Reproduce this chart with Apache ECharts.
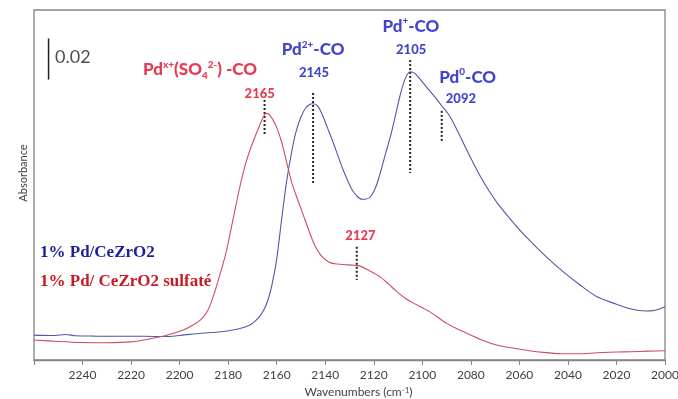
<!DOCTYPE html>
<html>
<head>
<meta charset="utf-8">
<script src="https://cdn.jsdelivr.net/npm/echarts@6/dist/echarts.min.js"></script>
<style>
  html, body { margin: 0; padding: 0; background: #fff; }
  #chart { width: 678px; height: 399px; }
</style>
</head>
<body>
<div id="chart"></div>
<script>
// IR spectra of CO adsorbed on Pd catalysts: [wavenumber (cm-1), absorbance]
const pdCeZr = [
  [2260,0.0121],[2252,0.0119],[2247,0.0124],[2243,0.0118],[2235,0.0116],[2225,0.0115],
  [2215,0.0115],[2205,0.0114],[2198,0.0122],[2191,0.0130],[2184,0.0136],[2178,0.0146],
  [2174,0.0157],[2171,0.0170],[2169,0.0188],[2167,0.0212],[2165,0.0250],[2163.5,0.0295],
  [2162,0.0362],[2160,0.0490],[2158,0.0680],[2156,0.0860],[2154,0.1000],[2152,0.1110],
  [2150,0.1180],[2148,0.1225],[2146,0.1243],[2145,0.1245],[2143,0.1232],[2141,0.1185],
  [2139,0.1125],[2137,0.1065],[2135,0.1000],[2133,0.0935],[2131,0.0878],[2129,0.0828],
  [2127,0.0797],[2125,0.0781],[2123,0.0782],[2121,0.0798],[2119,0.0845],[2117,0.0922],
  [2115,0.1008],[2113,0.1092],[2111,0.1192],[2109,0.1292],[2107,0.1368],[2105,0.1400],
  [2103,0.1392],[2101,0.1365],[2098,0.1322],[2095,0.1280],[2092,0.1235],[2089,0.1190],
  [2086,0.1125],[2083,0.1052],[2080,0.0980],[2076,0.0890],[2072,0.0812],[2069,0.0761],
  [2062,0.0660],[2056,0.0583],[2049,0.0502],[2042,0.0429],[2035,0.0364],[2028,0.0307],
  [2021,0.0275],[2014,0.0248],[2008,0.0238],[2004,0.0242],[2000,0.0259]
];
const pdCeZrSulf = [
  [2260,0.0097],[2250,0.0090],[2240,0.0085],[2230,0.0084],[2220,0.0088],[2212,0.0103],
  [2205,0.0121],[2198.5,0.0146],[2195,0.0166],[2191.5,0.0194],[2189,0.0228],[2187,0.0280],
  [2185,0.0350],[2183,0.0430],[2181,0.0515],[2179,0.0625],[2177,0.0740],[2175,0.0850],
  [2173,0.0945],[2171,0.1020],[2169,0.1082],[2167,0.1140],[2165.5,0.1180],[2164.5,0.1198],
  [2163,0.1192],[2161.5,0.1165],[2160,0.1130],[2158,0.1060],[2156,0.0965],[2154,0.0870],
  [2152,0.0800],[2150,0.0735],[2148,0.0670],[2146,0.0605],[2144,0.0550],[2142,0.0512],
  [2140,0.0488],[2138,0.0473],[2135,0.0466],[2132,0.0463],[2128,0.0460],[2125.5,0.0456],
  [2122,0.0435],[2117.5,0.0405],[2114,0.0370],[2110.5,0.0332],[2107,0.0300],[2103.5,0.0275],
  [2097,0.0235],[2090,0.0178],[2083,0.0137],[2076,0.0100],[2069,0.0072],[2062,0.0057],
  [2056,0.0045],[2049,0.0036],[2042,0.0030],[2036,0.0030],[2028,0.0035],[2020,0.0039],
  [2014,0.0040],[2007,0.0043],[2000,0.0045]
];

const seriesNames = ['1% Pd/CeZrO2', '1% Pd/ CeZrO2 sulfaté'];

// Band positions marked with dotted guides: [wavenumber, upper abs, lower abs]
const bandGuides = [
  [2165, 0.1263, 0.1093],
  [2145, 0.1297, 0.0860],
  [2105, 0.1457, 0.0908],
  [2092, 0.1210, 0.1055],
  [2127, 0.0550, 0.0389]
];

// Absorbance scale bar: [wavenumber, bottom abs, top abs]
const scaleBar = [[2254, 0.1362, 0.1562]];

// Band assignment labels
const bandLabelText = [
  'Pd{sup|x+}(SO{sub|4}{sup|2-}) -CO', '2165',
  'Pd{sup|2+}-CO', '2145',
  'Pd{sup|+}-CO', '2105',
  'Pd{sup|0}-CO', '2092',
  '2127', '0.02'
];
const bandLabelWn  = [2191.6, 2167, 2145, 2144.6, 2104.7, 2104.6, 2081.3, 2084.1, 2125.5, 2251.3];
const bandLabelAbs = [0.1409, 0.1295, 0.1506, 0.1394, 0.1619, 0.1509, 0.1373, 0.1271, 0.0602, 0.1472];
const bandLabelKind = ['nameR','numR','nameB','numB','nameB','numB','nameB','numB','numR','scale'];

const RED = '#e00a24';
const BLUE = '#1414c0';
const FONT = 'Lato';

function labelStyle(kind) {
  const color = kind === 'scale' ? '#222' : (kind.endsWith('R') ? RED : BLUE);
  const isName = kind.startsWith('name');
  const size = kind === 'scale' ? 18 : (isName ? 17 : 13);
  const weight = kind === 'scale' ? 'normal' : 900;
  const small = { fontSize: 10, fontWeight: weight, fontFamily: FONT, color: color, lineHeight: 10 };
  return {
    show: true,
    position: 'inside',
    align: kind === 'scale' ? 'left' : 'center',
    verticalAlign: 'middle',
    color: color,
    fontSize: size,
    fontWeight: weight,
    fontFamily: FONT,
    lineHeight: size + 4,
    rich: {
      sup: Object.assign({ verticalAlign: 'top' }, small),
      sub: Object.assign({ verticalAlign: 'bottom' }, small)
    }
  };
}

const labelData = bandLabelText.map((t, i) => {
  const lab = labelStyle(bandLabelKind[i]);
  lab.formatter = t;
  return { value: [bandLabelWn[i], bandLabelAbs[i]], label: lab };
});

function verticalSegment(dash, width) {
  return function (params, api) {
    const a = api.coord([api.value(0), api.value(1)]);
    const b = api.coord([api.value(0), api.value(2)]);
    return {
      type: 'line',
      shape: { x1: a[0], y1: a[1], x2: b[0], y2: b[1] },
      style: { stroke: '#222', lineWidth: width, lineDash: dash }
    };
  };
}

const chart = echarts.init(document.getElementById('chart'), null, { renderer: 'canvas' });
chart.setOption({
  animation: false,
  backgroundColor: '#fff',
  grid: {
    left: 34, right: 13, top: 10, bottom: 39,
    show: true, borderColor: '#858585', borderWidth: 1.3,
    outerBoundsMode: 'none'
  },
  legend: {
    orient: 'vertical',
    left: 35, top: 244,
    padding: 0,
    itemWidth: 0, itemHeight: 0,
    itemGap: 12,
    selectedMode: false,
    icon: 'rect',
    textStyle: { fontFamily: 'Liberation Serif', fontWeight: 'bold', fontSize: 17 },
    data: [
      { name: seriesNames[0], textStyle: { color: '#1e1e98' } },
      { name: seriesNames[1], textStyle: { color: '#c81a22' } }
    ]
  },
  xAxis: {
    type: 'value',
    inverse: true,
    min: 2000, max: 2260, interval: 20,
    name: 'Wavenumbers (cm{sup|-1})',
    nameLocation: 'middle',
    nameGap: 26,
    nameTextStyle: {
      fontFamily: FONT, fontSize: 12, color: '#404040', padding: [0, 0, 0, 18],
      rich: { sup: { fontSize: 8, fontFamily: FONT, color: '#404040', verticalAlign: 'top', lineHeight: 8 } }
    },
    axisLine: { lineStyle: { color: '#858585', width: 1.3 } },
    axisTick: { show: true, length: 5, lineStyle: { color: '#858585' } },
    axisLabel: {
      color: '#404040', fontFamily: FONT, fontSize: 12, margin: 9,
      formatter: v => (v === 2260 ? '' : String(v))
    },
    splitLine: { show: false }
  },
  yAxis: {
    type: 'value',
    min: 0, max: 0.17,
    name: 'Absorbance',
    nameLocation: 'middle',
    nameGap: 5,
    nameTextStyle: { fontFamily: FONT, fontSize: 11, color: '#404040', padding: [0, 0, 0, 24] },
    axisLine: { show: false },
    axisTick: { show: false },
    axisLabel: { show: false },
    splitLine: { show: false }
  },
  series: [
    {
      name: seriesNames[0], type: 'line', data: pdCeZr,
      showSymbol: false, smooth: 0.3, silent: true,
      lineStyle: { color: '#5656a8', width: 1.1 }, itemStyle: { color: '#5656a8' }
    },
    {
      name: seriesNames[1], type: 'line', data: pdCeZrSulf,
      showSymbol: false, smooth: 0.3, silent: true,
      lineStyle: { color: '#cc4d60', width: 1.1 }, itemStyle: { color: '#cc4d60' }
    },
    {
      type: 'custom', data: bandGuides, silent: true,
      encode: { x: 0, y: [1, 2] },
      renderItem: verticalSegment([2, 2], 2)
    },
    {
      type: 'custom', data: scaleBar, silent: true,
      encode: { x: 0, y: [1, 2] },
      renderItem: verticalSegment(null, 1.5)
    },
    {
      type: 'scatter', data: labelData, symbolSize: 0, silent: true, z: 5
    }
  ]
});
</script>
</body>
</html>
